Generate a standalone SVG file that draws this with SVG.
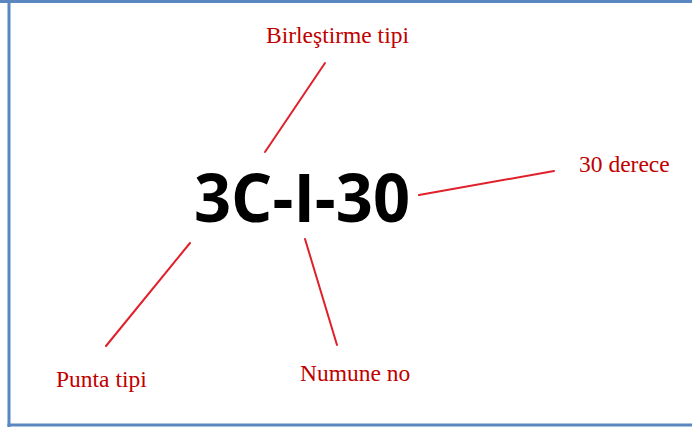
<svg xmlns="http://www.w3.org/2000/svg" width="692" height="430" viewBox="0 0 692 430">
<style>
.lbl{font-family:"Liberation Serif","Times New Roman",serif;font-size:23.5px;fill:#c00000}
.main{font-family:"Open Sans","Noto Sans",sans-serif;font-weight:700;font-size:66px;fill:#000}
.con line{stroke:#e0202a;stroke-width:2;stroke-linecap:round}
</style>
<rect width="692" height="430" fill="#fff"/>
<g id="frame" fill="#5a87c0">
<rect x="0" y="0" width="692" height="3"/>
<rect x="7.5" y="0" width="3" height="427"/>
<rect x="7.5" y="423.5" width="684.5" height="3"/>
</g>
<g id="code"><text class="main" x="194" y="222" textLength="216" lengthAdjust="spacingAndGlyphs">3C-I-30</text></g>
<g id="birlestirme"><text class="lbl" x="266" y="43">Birleştirme tipi</text></g>
<g id="derece"><text class="lbl" x="579" y="172">30 derece</text></g>
<g id="punta"><text class="lbl" x="56" y="387">Punta tipi</text></g>
<g id="numune"><text class="lbl" x="300" y="381">Numune no</text></g>
<g class="con" id="connectors">
<line x1="265" y1="152" x2="325" y2="63"/>
<line x1="419" y1="195" x2="554" y2="171"/>
<line x1="190" y1="243" x2="106" y2="346"/>
<line x1="305" y1="239" x2="337" y2="345"/>
</g>
</svg>
